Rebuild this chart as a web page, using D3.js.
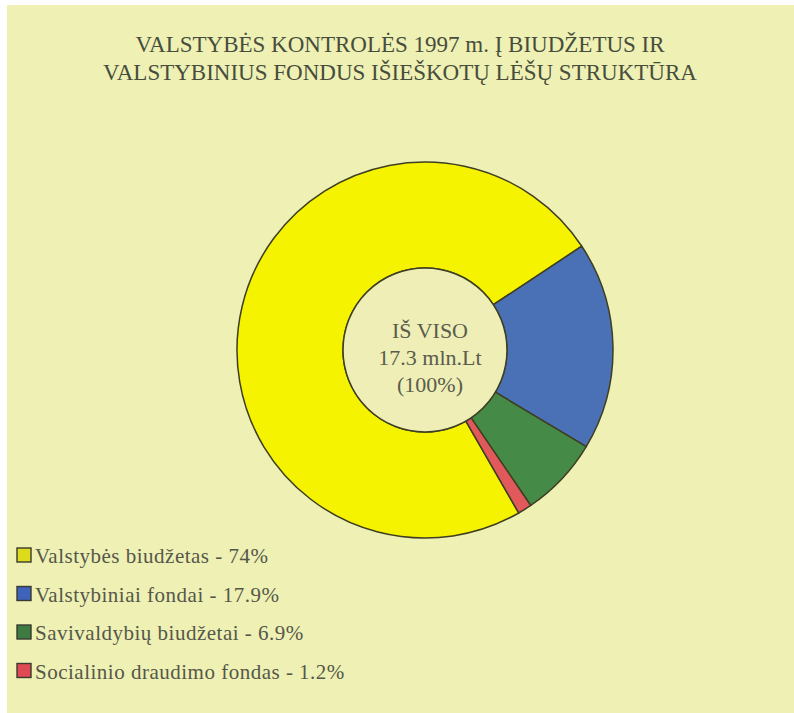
<!DOCTYPE html>
<html>
<head>
<meta charset="utf-8">
<script src="https://cdn.jsdelivr.net/npm/d3@7"></script>
<style>
  html, body { margin: 0; padding: 0; background: #ffffff; }
  svg { display: block; }
  text { font-family: 'Liberation Serif', 'DejaVu Serif', serif; }
</style>
</head>
<body>
<svg id="chart" width="794" height="713"></svg>
<script>
// ---- Data ----
const titleLines = ["VALSTYBĖS KONTROLĖS 1997 m. Į BIUDŽETUS IR",
                    "VALSTYBINIUS FONDUS IŠIEŠKOTŲ LĖŠŲ STRUKTŪRA"];
const categories = ["Valstybės biudžetas", "Valstybiniai fondai", "Savivaldybių biudžetai", "Socialinio draudimo fondas"];
const values = [74, 17.9, 6.9, 1.2];
const valueLabels = ["74%", "17.9%", "6.9%", "1.2%"];
const centerLines = ["IŠ VISO", "17.3 mln.Lt", "(100%)"];

// ---- Style ----
const sliceColors = ["#f6f300", "#4a70b6", "#468a48", "#e2595c"];
const legendColors = ["#dcdc1c", "#3f63bb", "#3d7b40", "#e04a55"];
const bg = "#eef0b4";
const textColor = "#55574a";

const svg = d3.select("#chart");
const W = 794, H = 713;

svg.append("rect").attr("x", 0).attr("y", 0).attr("width", W).attr("height", H).attr("fill", "#ffffff");
svg.append("rect").attr("x", 7).attr("y", 5).attr("width", W - 7).attr("height", H - 5).attr("fill", bg);

// Title
svg.append("g").selectAll("text").data(titleLines).join("text")
  .attr("x", 400)
  .attr("y", (d, i) => 52 + i * 28)
  .attr("text-anchor", "middle")
  .attr("font-size", 23)
  .attr("fill", "#474d3c")
  .text(d => d);

// Donut
const cx = 425, cy = 350, R = 188, r0 = 82;
const deg = Math.PI / 180;
const total = d3.sum(values);
const blueStart = 56.5 * deg;
const startAngle = blueStart - (values[0] / total) * 2 * Math.PI;
const pie = d3.pie().sort(null).startAngle(startAngle).endAngle(startAngle + 2 * Math.PI);
const arc = d3.arc().innerRadius(r0).outerRadius(R);

const g = svg.append("g").attr("transform", `translate(${cx},${cy})`);
g.selectAll("path").data(pie(values)).join("path")
  .attr("d", arc)
  .attr("fill", (d, i) => sliceColors[i])
  .attr("stroke", "#3e3e22")
  .attr("stroke-width", 1.5)
  .attr("stroke-linejoin", "round");

g.append("circle").attr("r", r0).attr("fill", "#eeeeb6")
  .attr("stroke", "#3e3e22").attr("stroke-width", 1.5);

g.selectAll("text.center").data(centerLines).join("text")
  .attr("class", "center")
  .attr("x", 5)
  .attr("y", (d, i) => -12 + i * 27)
  .attr("text-anchor", "middle")
  .attr("font-size", 22)
  .attr("fill", "#5a5c4c")
  .text(d => d);

// Legend
const legend = svg.append("g");
const items = legend.selectAll("g").data(categories).join("g")
  .attr("transform", (d, i) => `translate(17, ${548 + i * 38.5})`);
items.append("rect")
  .attr("width", 14).attr("height", 14)
  .attr("fill", (d, i) => legendColors[i])
  .attr("stroke", "#3a3a30").attr("stroke-width", 1.4);
items.append("text")
  .attr("x", 18).attr("y", 15)
  .attr("font-size", 21)
  .attr("letter-spacing", 0.5)
  .attr("fill", textColor)
  .text((d, i) => `${d} - ${valueLabels[i]}`);
</script>
</body>
</html>
